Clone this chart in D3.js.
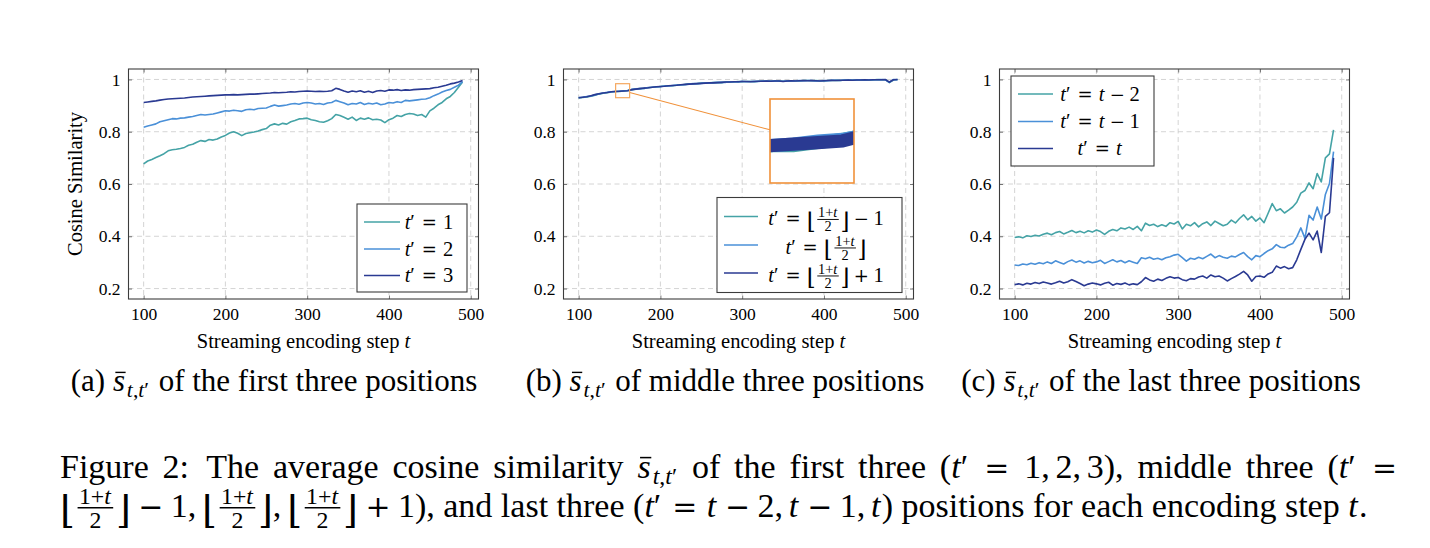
<!DOCTYPE html>
<html>
<head>
<meta charset="utf-8">
<script src="https://cdn.jsdelivr.net/npm/d3@7"></script>
<style>
  body { margin: 0; background: #fff; }
  text { font-family: "Liberation Serif", "DejaVu Serif", serif; fill: #000; }
</style>
</head>
<body>
<svg id="fig" width="1430" height="548"></svg>
<script>
"use strict";

// steps t = 100, 105, ... 490
var tStart = 100;
var tStep = 5;

var xTicks = [100, 200, 300, 400, 500];
var yTicks = [0.2, 0.4, 0.6, 0.8, 1];

// (a) first three positions
var firstT1 = [0.677, 0.688, 0.694, 0.701, 0.708, 0.716, 0.727, 0.731, 0.733, 0.736,
  0.740, 0.748, 0.752, 0.760, 0.766, 0.763, 0.770, 0.768, 0.772, 0.780,
  0.786, 0.795, 0.800, 0.794, 0.785, 0.793, 0.796, 0.799, 0.803, 0.808,
  0.812, 0.825, 0.830, 0.826, 0.832, 0.829, 0.838, 0.843, 0.849, 0.850,
  0.852, 0.846, 0.843, 0.838, 0.836, 0.842, 0.850, 0.866, 0.862, 0.855,
  0.848, 0.856, 0.843, 0.852, 0.848, 0.853, 0.846, 0.848, 0.845, 0.835,
  0.846, 0.852, 0.862, 0.858, 0.866, 0.870, 0.868, 0.862, 0.866, 0.856,
  0.880, 0.890, 0.903, 0.912, 0.926, 0.935, 0.950, 0.970, 0.990];
var firstT2 = [0.817, 0.822, 0.826, 0.830, 0.838, 0.842, 0.846, 0.850, 0.849, 0.852,
  0.853, 0.856, 0.858, 0.862, 0.866, 0.864, 0.866, 0.868, 0.872, 0.876,
  0.880, 0.879, 0.882, 0.880, 0.878, 0.884, 0.886, 0.884, 0.889, 0.890,
  0.891, 0.897, 0.902, 0.898, 0.900, 0.902, 0.906, 0.908, 0.905, 0.910,
  0.912, 0.910, 0.906, 0.908, 0.904, 0.910, 0.912, 0.920, 0.915, 0.910,
  0.903, 0.908, 0.906, 0.912, 0.904, 0.909, 0.906, 0.910, 0.903, 0.906,
  0.912, 0.910, 0.915, 0.912, 0.920, 0.918, 0.920, 0.922, 0.924, 0.925,
  0.930, 0.938, 0.944, 0.952, 0.958, 0.962, 0.970, 0.978, 0.992];
var firstT3 = [0.912, 0.914, 0.916, 0.918, 0.921, 0.923, 0.925, 0.926, 0.927, 0.928,
  0.929, 0.931, 0.933, 0.934, 0.935, 0.936, 0.937, 0.938, 0.939, 0.940,
  0.941, 0.941, 0.942, 0.941, 0.942, 0.943, 0.944, 0.944, 0.945, 0.946,
  0.947, 0.948, 0.950, 0.949, 0.950, 0.951, 0.953, 0.952, 0.954, 0.955,
  0.956, 0.955, 0.954, 0.955, 0.954, 0.955, 0.957, 0.966, 0.962, 0.956,
  0.951, 0.956, 0.953, 0.957, 0.951, 0.955, 0.950, 0.956, 0.958, 0.955,
  0.960, 0.959, 0.961, 0.958, 0.960, 0.959, 0.961, 0.962, 0.963, 0.964,
  0.965, 0.968, 0.970, 0.974, 0.978, 0.983, 0.986, 0.990, 0.996];

// (b) middle three positions
var midLow = [0.929, 0.931, 0.933, 0.936, 0.940, 0.944, 0.947, 0.949, 0.952, 0.954,
  0.954, 0.956, 0.958, 0.961, 0.963, 0.965, 0.966, 0.968, 0.970, 0.971,
  0.973, 0.975, 0.976, 0.976, 0.978, 0.979, 0.981, 0.983, 0.983, 0.984,
  0.986, 0.986, 0.987, 0.988, 0.988, 0.988, 0.990, 0.991, 0.990, 0.992,
  0.991, 0.992, 0.992, 0.991, 0.993, 0.994, 0.993, 0.994, 0.993, 0.995,
  0.993, 0.993, 0.995, 0.995, 0.994, 0.996, 0.996, 0.995, 0.996, 0.995,
  0.994, 0.996, 0.996, 0.997, 0.996, 0.998, 0.997, 0.998, 0.997, 0.999,
  0.998, 0.999, 0.998, 1.000, 0.999, 0.999, 0.988, 0.998, 1.000];
var midMid = [0.931, 0.932, 0.935, 0.937, 0.941, 0.945, 0.948, 0.951, 0.953, 0.954,
  0.955, 0.957, 0.958, 0.961, 0.964, 0.965, 0.966, 0.969, 0.970, 0.972,
  0.972, 0.975, 0.975, 0.977, 0.979, 0.980, 0.980, 0.982, 0.984, 0.984,
  0.985, 0.987, 0.986, 0.988, 0.989, 0.989, 0.989, 0.991, 0.991, 0.990,
  0.993, 0.991, 0.992, 0.993, 0.992, 0.994, 0.994, 0.993, 0.995, 0.993,
  0.993, 0.995, 0.994, 0.995, 0.996, 0.995, 0.996, 0.996, 0.994, 0.995,
  0.996, 0.995, 0.997, 0.997, 0.996, 0.998, 0.998, 0.997, 0.999, 0.998,
  0.998, 0.999, 0.999, 0.999, 1.000, 0.999, 0.989, 1.000, 0.999];
var midHigh = [0.930, 0.932, 0.934, 0.938, 0.942, 0.945, 0.948, 0.950, 0.953, 0.954,
  0.955, 0.956, 0.957, 0.961, 0.963, 0.965, 0.967, 0.968, 0.970, 0.972,
  0.973, 0.974, 0.976, 0.977, 0.978, 0.980, 0.981, 0.982, 0.983, 0.984,
  0.985, 0.986, 0.987, 0.987, 0.988, 0.989, 0.990, 0.990, 0.991, 0.991,
  0.992, 0.992, 0.991, 0.992, 0.993, 0.993, 0.994, 0.993, 0.994, 0.994,
  0.992, 0.994, 0.995, 0.994, 0.995, 0.996, 0.995, 0.996, 0.995, 0.994,
  0.995, 0.996, 0.997, 0.996, 0.997, 0.997, 0.998, 0.997, 0.998, 0.998,
  0.999, 0.998, 0.999, 0.999, 0.999, 1.000, 0.990, 0.999, 1.000];

// (c) last three positions
var lastM2 = [0.395, 0.398, 0.394, 0.402, 0.399, 0.404, 0.401, 0.408, 0.412, 0.406,
  0.414, 0.418, 0.409, 0.415, 0.422, 0.414, 0.419, 0.413, 0.421, 0.416,
  0.424, 0.418, 0.407, 0.419, 0.426, 0.421, 0.432, 0.428, 0.435, 0.426,
  0.438, 0.421, 0.450, 0.441, 0.446, 0.437, 0.444, 0.438, 0.452, 0.447,
  0.457, 0.428, 0.446, 0.440, 0.452, 0.436, 0.448, 0.455, 0.441, 0.458,
  0.449, 0.440, 0.446, 0.462, 0.451, 0.468, 0.482, 0.463, 0.476, 0.458,
  0.470, 0.452, 0.488, 0.525, 0.498, 0.505, 0.489, 0.500, 0.512, 0.530,
  0.565, 0.575, 0.604, 0.582, 0.640, 0.608, 0.700, 0.715, 0.807];
var lastM1 = [0.290, 0.288, 0.294, 0.291, 0.297, 0.293, 0.299, 0.295, 0.302, 0.296,
  0.306, 0.300, 0.294, 0.303, 0.309, 0.301, 0.306, 0.298, 0.304, 0.299,
  0.302, 0.308, 0.296, 0.303, 0.310, 0.302, 0.307, 0.299, 0.306, 0.301,
  0.296, 0.318, 0.314, 0.320, 0.312, 0.316, 0.310, 0.318, 0.322, 0.328,
  0.331, 0.318, 0.305, 0.316, 0.312, 0.320, 0.314, 0.323, 0.332, 0.318,
  0.326, 0.320, 0.316, 0.324, 0.321, 0.330, 0.338, 0.322, 0.310, 0.326,
  0.322, 0.334, 0.345, 0.352, 0.368, 0.358, 0.356, 0.366, 0.372, 0.398,
  0.432, 0.392, 0.480, 0.462, 0.512, 0.466, 0.560, 0.602, 0.724];
var lastT = [0.215, 0.218, 0.214, 0.220, 0.217, 0.223, 0.219, 0.225, 0.221, 0.217,
  0.222, 0.228, 0.221, 0.226, 0.234, 0.227, 0.219, 0.211, 0.217, 0.221,
  0.218, 0.214, 0.220, 0.224, 0.213, 0.219, 0.216, 0.221, 0.214, 0.218,
  0.215, 0.226, 0.242, 0.233, 0.228, 0.236, 0.231, 0.239, 0.245, 0.240,
  0.242, 0.234, 0.230, 0.238, 0.236, 0.244, 0.248, 0.240, 0.252, 0.245,
  0.248, 0.240, 0.229, 0.238, 0.246, 0.255, 0.266, 0.252, 0.228, 0.246,
  0.248, 0.243, 0.256, 0.262, 0.286, 0.278, 0.284, 0.276, 0.280, 0.310,
  0.350, 0.388, 0.412, 0.386, 0.420, 0.338, 0.476, 0.490, 0.700];

var colors = ["#45a3a6", "#4a90d8", "#2a3a92"];

// --- little math-text builder -------------------------------------------
function R(s) { return {s: s}; }
function I(s) { return {s: s, it: true}; }
function O(s) { return {s: s, op: true}; }
function SP(n) { return {sp: n}; }
function J(n) { return {sp: n == null ? 0.25 : n, j: true}; }
function words(str) {
  var out = [];
  str.split(" ").forEach(function (w, i) {
    if (i > 0) out.push(J());
    out.push(R(w));
  });
  return out;
}
function floorFrac() {
  return [{s: "\u230A", op: true, big: true},
    {frac: [[{ts: [["1+", 0], ["t", 1]]}], [R("2")]]},
    {s: "\u230B", op: true, big: true}];
}
// t' as one text element (italic t + prime)
function tprime() { return [{ts: [["t", 1], ["\u2032", 0]]}]; }
function sbar() {
  return [{s: "s", it: true, bar: true},
    {sub: [{ts: [["t", 1], [",", 0], ["t", 1], ["\u2032", 0]]}]}];
}

var legendA = [
  tprime().concat([SP(0.3), O("="), SP(0.3), R("1")]),
  tprime().concat([SP(0.3), O("="), SP(0.3), R("2")]),
  tprime().concat([SP(0.3), O("="), SP(0.3), R("3")])
];
var legendB = [
  tprime().concat([SP(0.3), O("="), SP(0.3)], floorFrac(), [SP(0.22), O("\u2212"), SP(0.22), R("1")]),
  tprime().concat([SP(0.3), O("="), SP(0.3)], floorFrac()),
  tprime().concat([SP(0.3), O("="), SP(0.3)], floorFrac(), [SP(0.22), O("+"), SP(0.22), R("1")])
];
var legendC = [
  tprime().concat([SP(0.3), O("="), SP(0.3), I("t"), SP(0.22), O("\u2212"), SP(0.22), R("2")]),
  tprime().concat([SP(0.3), O("="), SP(0.3), I("t"), SP(0.22), O("\u2212"), SP(0.22), R("1")]),
  tprime().concat([SP(0.3), O("="), SP(0.3), I("t")])
];

function put(g, tk, x, y, size) {
  if (tk.sp != null) return tk.sp * size + (tk.extra || 0);
  if (tk.sub) {
    var sg = g.append("g").attr("transform", "translate(" + (x + size * 0.02) + "," + (y + size * 0.18) + ")");
    return runTokens(sg, tk.sub, size * 0.7) + size * 0.02;
  }
  if (tk.frac) {
    var fs = size * 0.7;
    var ng = g.append("g"), dg = g.append("g");
    var nw = runTokens(ng, tk.frac[0], fs);
    var dw = runTokens(dg, tk.frac[1], fs);
    var w = Math.max(nw, dw) + size * 0.24;
    var ax = y - size * 0.27;
    ng.attr("transform", "translate(" + (x + (w - nw) / 2) + "," + (ax - size * 0.11) + ")");
    dg.attr("transform", "translate(" + (x + (w - dw) / 2) + "," + (ax + size * 0.11 + fs * 0.68) + ")");
    g.append("line")
      .attr("x1", x + size * 0.08).attr("x2", x + w - size * 0.08)
      .attr("y1", ax).attr("y2", ax)
      .attr("stroke", "#000").attr("stroke-width", Math.max(0.8, size * 0.045));
    return w;
  }
  var t = g.append("text").attr("x", x).attr("y", y);
  if (tk.ts) {
    // several runs inside one text element
    t.attr("font-size", size);
    tk.ts.forEach(function (run) {
      var sp = t.append("tspan").text(run[0]);
      if (run[1]) sp.attr("font-style", "italic");
    });
    return t.node().getComputedTextLength() + size * 0.04;
  }
  t.text(tk.s);
  if (tk.op) t.style("font-family", "'DejaVu Serif'").attr("font-size", size * 0.88);
  else t.attr("font-size", size);
  if (tk.it) t.attr("font-style", "italic");
  if (tk.big) t.attr("font-size", size * 1.12).attr("y", y + size * 0.17);
  var w = t.node().getComputedTextLength();
  if (tk.bar) {
    g.append("line")
      .attr("x1", x + w * 0.2).attr("x2", x + w * 1.05)
      .attr("y1", y - size * 0.6).attr("y2", y - size * 0.6)
      .attr("stroke", "#000").attr("stroke-width", size * 0.045);
  }
  return w + (tk.it ? size * 0.04 : 0);
}
function runTokens(g, tokens, size) {
  var x = 0;
  tokens.forEach(function (tk) { x += put(g, tk, x, 0, size); });
  return x;
}
function placeRich(parent, tokens, size, x, y, anchor, fitW) {
  var g = parent.append("g");
  var w = runTokens(g, tokens, size);
  if (fitW) {
    var js = tokens.filter(function (tk) { return tk.j; });
    var extra = (fitW - w) / js.length;
    js.forEach(function (tk) { tk.extra = extra; });
    g.remove();
    g = parent.append("g");
    w = runTokens(g, tokens, size);
  }
  var dx = anchor === "middle" ? x - w / 2 : (anchor === "end" ? x - w : x);
  g.attr("transform", "translate(" + dx + "," + y + ")");
  return w;
}

// --- panels ---------------------------------------------------------------
var svg = d3.select("#fig");
var plotTop = 69, plotH = 230, plotW = 350;

var panels = [
  {left: 128.5, series: [firstT1, firstT2, firstT3], legend: legendA,
    box: [357, 204, 110, 88], rows: [222, 249, 275.5], sample: [364, 400], textX: 429, base: 6.5,
    caption: "of the first three positions", tag: "(a)", capX: 274, ylabel: true},
  {left: 563.5, series: [midLow, midMid, midHigh], legend: legendB,
    box: [717, 197.5, 185, 95], rows: [216.5, 245, 273], sample: [724, 758], textX: 826, base: 8.5,
    caption: "of middle three positions", tag: "(b)", capX: 725, spy: true},
  {left: 999.5, series: [lastM2, lastM1, lastT], legend: legendC,
    box: [1011, 76, 143, 90], rows: [94, 121.5, 148.5], sample: [1018, 1053], textX: 1100, base: 6.5,
    caption: "of the last three positions", tag: "(c)", capX: 1161}
];

panels.forEach(function (p) {
  var g = svg.append("g");
  var x = d3.scaleLinear().domain([81.5, 509.5]).range([p.left, p.left + plotW]);
  var y = d3.scaleLinear().domain([0.16, 1.04]).range([plotTop + plotH, plotTop]);

  // dashed grid
  g.selectAll(".gx").data(xTicks).enter().append("line")
    .attr("x1", function (d) { return x(d); }).attr("x2", function (d) { return x(d); })
    .attr("y1", plotTop).attr("y2", plotTop + plotH)
    .attr("stroke", "#cfcfcf").attr("stroke-width", 0.9).attr("stroke-dasharray", "5,3.5");
  g.selectAll(".gy").data(yTicks).enter().append("line")
    .attr("y1", function (d) { return y(d); }).attr("y2", function (d) { return y(d); })
    .attr("x1", p.left).attr("x2", p.left + plotW)
    .attr("stroke", "#cfcfcf").attr("stroke-width", 0.9).attr("stroke-dasharray", "5,3.5");

  var line = d3.line()
    .x(function (d, i) { return x(tStart + i * tStep); })
    .y(function (d) { return y(d); });

  var lines = g.append("g");
  p.series.forEach(function (s, k) {
    lines.append("path").datum(s)
      .attr("d", line)
      .attr("fill", "none")
      .attr("stroke", colors[k])
      .attr("stroke-width", 1.6)
      .attr("stroke-linejoin", "round");
  });

  // magnified view in (b)
  if (p.spy) {
    var mag = 6;
    var cx = x(153.8), cy = y(0.957);
    var half = 7;
    var ix = 812, iy = 141, ih = half * mag;
    var dx = ix - cx, dy = iy - cy;
    var a0 = half / dx, a1 = (dx - ih) / dx;
    g.append("line")
      .attr("x1", cx + dx * a0).attr("y1", cy + dy * a0)
      .attr("x2", cx + dx * a1).attr("y2", cy + dy * a1)
      .attr("stroke", "#f0913a").attr("stroke-width", 1.1);
    g.append("rect")
      .attr("x", cx - half).attr("y", cy - half).attr("width", half * 2).attr("height", half * 2)
      .attr("fill", "none").attr("stroke", "#f5a860").attr("stroke-width", 1.2);
    svg.append("clipPath").attr("id", "spyClip").append("rect")
      .attr("x", ix - ih).attr("y", iy - ih).attr("width", ih * 2).attr("height", ih * 2);
    g.append("rect")
      .attr("x", ix - ih).attr("y", iy - ih).attr("width", ih * 2).attr("height", ih * 2)
      .attr("fill", "#fff");
    var zoomG = g.append("g").attr("clip-path", "url(#spyClip)")
      .append("g")
      .attr("transform", "translate(" + ix + "," + iy + ") scale(" + mag + ") translate(" + (-cx) + "," + (-cy) + ")");
    p.series.forEach(function (s, k) {
      zoomG.append("path").datum(s)
        .attr("d", line)
        .attr("fill", "none")
        .attr("stroke", colors[k])
        .attr("stroke-width", 2.2);
    });
    g.append("rect")
      .attr("x", ix - ih).attr("y", iy - ih).attr("width", ih * 2).attr("height", ih * 2)
      .attr("fill", "none").attr("stroke", "#f0913a").attr("stroke-width", 1.6);
  }

  // axes: labels on bottom/left, inward ticks on all sides
  var fmt = function (d) { return String(d); };
  var axB = g.append("g").attr("transform", "translate(0," + (plotTop + plotH) + ")")
    .call(d3.axisBottom(x).tickValues(xTicks).tickFormat(fmt).tickSizeInner(-3.5).tickSizeOuter(0).tickPadding(9));
  var axL = g.append("g").attr("transform", "translate(" + p.left + ",0)")
    .call(d3.axisLeft(y).tickValues(yTicks).tickFormat(fmt).tickSizeInner(-3.5).tickSizeOuter(0).tickPadding(8));
  var axT = g.append("g").attr("transform", "translate(0," + plotTop + ")")
    .call(d3.axisTop(x).tickValues(xTicks).tickFormat("").tickSizeInner(-3.5).tickSizeOuter(0));
  var axR = g.append("g").attr("transform", "translate(" + (p.left + plotW) + ",0)")
    .call(d3.axisRight(y).tickValues(yTicks).tickFormat("").tickSizeInner(-3.5).tickSizeOuter(0));
  [axB, axL, axT, axR].forEach(function (a) {
    a.select(".domain").remove();
    a.selectAll(".tick line").attr("stroke", "#555").attr("stroke-width", 0.8);
    a.selectAll(".tick text").attr("font-family", null).attr("font-size", 17.5).attr("fill", "#000");
  });

  g.append("rect")
    .attr("x", p.left).attr("y", plotTop).attr("width", plotW).attr("height", plotH)
    .attr("fill", "none").attr("stroke", "#3c3c3c").attr("stroke-width", 1.1);

  // legend
  var b = p.box;
  g.append("rect").attr("x", b[0]).attr("y", b[1]).attr("width", b[2]).attr("height", b[3])
    .attr("fill", "#fff").attr("stroke", "#3c3c3c").attr("stroke-width", 1.1);
  p.legend.forEach(function (tokens, k) {
    g.append("line")
      .attr("x1", p.sample[0]).attr("x2", p.sample[1])
      .attr("y1", p.rows[k]).attr("y2", p.rows[k])
      .attr("stroke", colors[k]).attr("stroke-width", 1.6);
    placeRich(g, tokens, 20.5, p.textX, p.rows[k] + p.base, "middle");
  });

  // axis titles
  g.append("text")
    .attr("x", p.left + plotW / 2).attr("y", 347.5)
    .attr("text-anchor", "middle").attr("font-size", 20.5)
    .text("Streaming encoding step ")
    .append("tspan").attr("font-style", "italic").text("t");
  if (p.ylabel) {
    g.append("text")
      .attr("transform", "translate(82," + (plotTop + plotH / 2) + ") rotate(-90)")
      .attr("text-anchor", "middle").attr("font-size", 20.5)
      .text("Cosine Similarity");
  }

  // sub-caption
  placeRich(svg, [R(p.tag), SP(0.25)].concat(sbar(), [SP(0.28), R(p.caption)]), 31, p.capX, 391, "middle");
});

// --- figure caption -------------------------------------------------------
var cap1 = words("Figure 2:").concat([J(0.35)], words("The average cosine similarity"), [J()], sbar(),
  [J()], words("of the first three"), [J(), R("(")], tprime(),
  [J(0.28), O("="), J(0.28), R("1,"), SP(0.17), R("2,"), SP(0.17), R("3),")],
  [J()], words("middle three"), [J(), R("(")], tprime(), [J(0.28), O("=")]);
placeRich(svg, cap1, 34, 60, 478, "start", 1337);

var cap2 = floorFrac().concat([SP(0.22), O("\u2212"), SP(0.22), R("1,"), SP(0.17)],
  floorFrac(), [R(","), SP(0.17)], floorFrac(),
  [SP(0.22), O("+"), SP(0.22), R("1),"), SP(0.25), R("and last three"), SP(0.25), R("(")], tprime(),
  [SP(0.28), O("="), SP(0.28), I("t"), SP(0.22), O("\u2212"), SP(0.22), R("2,"), SP(0.17),
    I("t"), SP(0.22), O("\u2212"), SP(0.22), R("1,"), SP(0.17), I("t"), R(")"), SP(0.25),
    R("positions for each encoding step"), SP(0.25), I("t"), R(".")]);
placeRich(svg, cap2, 34, 60, 517, "start");
</script>
</body>
</html>
